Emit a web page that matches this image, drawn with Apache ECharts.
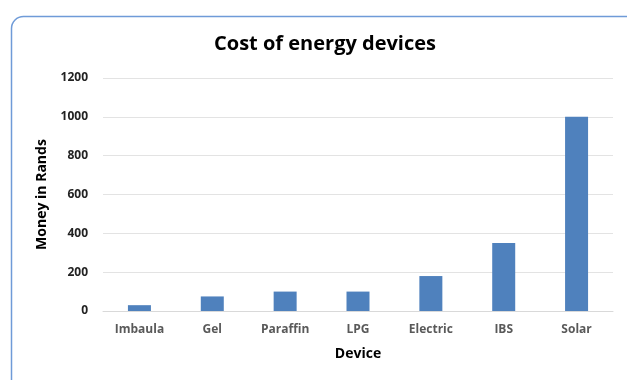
<!DOCTYPE html>
<html>
<head>
<meta charset="utf-8">
<script src="https://cdn.jsdelivr.net/npm/echarts@6/dist/echarts.min.js"></script>
<style>
  html, body { margin: 0; padding: 0; background: #fff; }
  #chart-container { width: 627px; height: 380px; }
</style>
</head>
<body>
<div id="chart-container"></div>
<script>
const devices = ["Imbaula", "Gel", "Paraffin", "LPG", "Electric", "IBS", "Solar"];
const costs = [30, 75, 100, 100, 180, 350, 1000];
const yTicks = { min: 0, max: 1200, interval: 200 };

const dom = document.getElementById("chart-container");
const myChart = echarts.init(dom, null, { renderer: "canvas" });

const option = {
  animation: false,
  graphic: [
    {
      type: "rect",
      left: 9,
      top: 14,
      shape: { width: 640, height: 400, r: 12 },
      style: { fill: "none", stroke: "#6f9bd8", lineWidth: 1.5 },
      z: -1,
    },
  ],
  title: {
    text: "Cost of energy devices",
    left: 320,
    textAlign: "center",
    top: 29,
    textStyle: {
      fontFamily: "Open Sans",
      fontSize: 20,
      fontWeight: "bold",
      color: "#000",
    },
  },
  grid: { left: 103, right: 14, top: 78, bottom: 69 },
  xAxis: {
    type: "category",
    data: devices,
    name: "Device",
    nameLocation: "middle",
    nameGap: 36,
    nameTextStyle: {
      fontFamily: "Open Sans",
      fontSize: 14,
      fontWeight: "bold",
      color: "#000",
    },
    axisLine: { lineStyle: { color: "#d9d9d9" } },
    axisTick: { show: false },
    axisLabel: {
      margin: 13,
      fontFamily: "Open Sans",
      fontSize: 12,
      fontWeight: "bold",
      color: "#595959",
    },
  },
  yAxis: {
    type: "value",
    min: yTicks.min,
    max: yTicks.max,
    interval: yTicks.interval,
    name: "Money in Rands",
    nameLocation: "middle",
    nameGap: 54,
    nameTextStyle: {
      fontFamily: "Open Sans",
      fontSize: 14,
      fontWeight: "bold",
      color: "#000",
    },
    axisLine: { show: false },
    axisTick: { show: false },
    splitLine: { lineStyle: { color: "#e3e3e3" } },
    axisLabel: {
      margin: 15,
      fontFamily: "Open Sans",
      fontSize: 12,
      fontWeight: "bold",
      color: "#222",
      formatter: (v) => String(v),
    },
  },
  series: [
    {
      name: "Cost",
      type: "bar",
      data: costs,
      barWidth: 23,
      itemStyle: { color: "#4f81bd" },
    },
  ],
};

myChart.setOption(option);
window.addEventListener("resize", myChart.resize);
</script>
</body>
</html>
